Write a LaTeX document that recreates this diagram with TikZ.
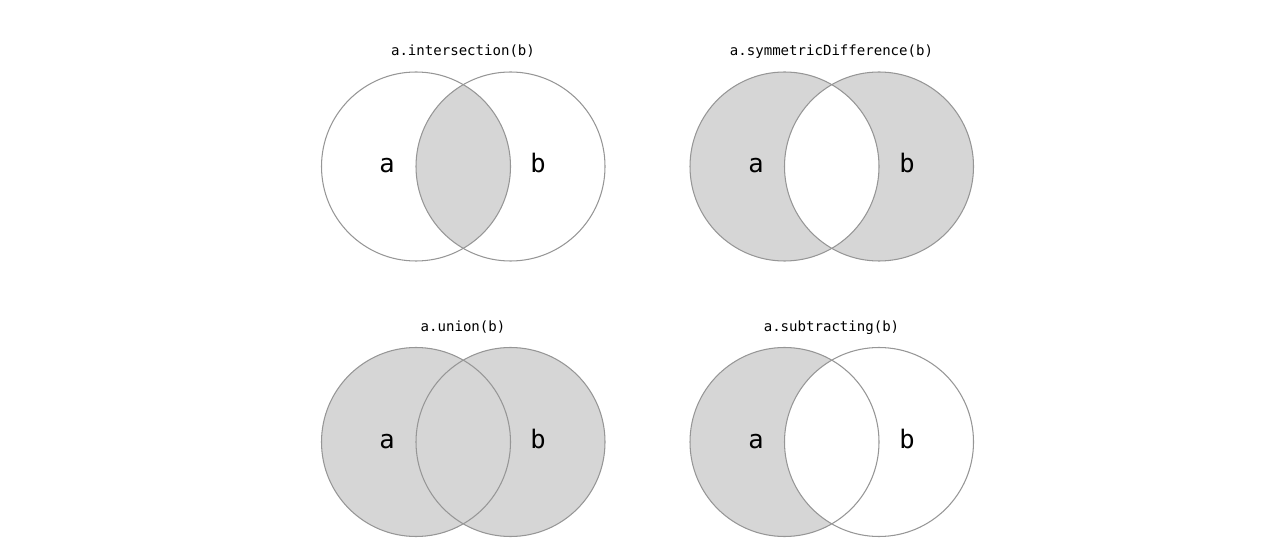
\documentclass[tikz,border=0pt]{standalone}
\usepackage{fontspec}
\usepackage{tikz}
\usetikzlibrary{positioning}
\newfontfamily\setmono{DejaVu Sans Mono}
\definecolor{setfill}{RGB}{214,214,214}
\definecolor{setline}{RGB}{150,150,150}

\tikzset{
  setcircle/.style={draw=setline, line width=0.6pt},
  settitle/.style={anchor=base, font=\setmono\fontsize{8}{10}\selectfont},
  setlabel/.style={anchor=base, font=\setmono\fontsize{14.5}{17}\selectfont}
}

\begin{document}
\begin{tikzpicture}[x=0.02cm, y=-0.02cm]
    \useasboundingbox (0,0) rectangle (1288,560);

    % a.intersection(b)
    \begin{scope}
        \clip (416,166.5) circle (94.5);
        \fill[setfill] (510.5,166.5) circle (94.5);
    \end{scope}
    \draw[setcircle] (416,166.5) circle (94.5);
    \draw[setcircle] (510.5,166.5) circle (94.5);
    \node[settitle] (interTitle) at (463,56) {a.intersection(b)};
    \node[setlabel] (interA) at (387,173) {a};
    \node[setlabel] (interB) at (538,173) {b};

    % a.symmetricDifference(b)
    \fill[setfill, even odd rule] (784.5,166.5) circle (94.5) (879,166.5) circle (94.5);
    \draw[setcircle] (784.5,166.5) circle (94.5);
    \draw[setcircle] (879,166.5) circle (94.5);
    \node[settitle] (symTitle) at (831.5,56) {a.symmetricDifference(b)};
    \node[setlabel] (symA) at (756,173) {a};
    \node[setlabel] (symB) at (907,173) {b};

    % a.union(b)
    \fill[setfill] (416,442) circle (94.5) (510.5,442) circle (94.5);
    \draw[setcircle] (416,442) circle (94.5);
    \draw[setcircle] (510.5,442) circle (94.5);
    \node[settitle] (unionTitle) at (463,332) {a.union(b)};
    \node[setlabel] (unionA) at (387,448) {a};
    \node[setlabel] (unionB) at (538,448) {b};

    % a.subtracting(b)
    \fill[setfill] (784.5,442) circle (94.5);
    \fill[white] (879,442) circle (94.5);
    \draw[setcircle] (784.5,442) circle (94.5);
    \draw[setcircle] (879,442) circle (94.5);
    \node[settitle] (subTitle) at (831.5,332) {a.subtracting(b)};
    \node[setlabel] (subA) at (756,448) {a};
    \node[setlabel] (subB) at (907,448) {b};
\end{tikzpicture}
\end{document}
